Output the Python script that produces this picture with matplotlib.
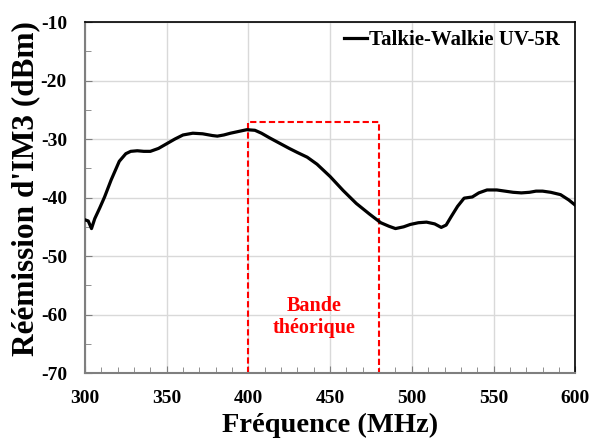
"""Réémission IM3 — Talkie-Walkie UV-5R."""

import matplotlib
matplotlib.use("Agg")
import matplotlib.pyplot as plt
from matplotlib.ticker import MultipleLocator

# Données (MHz, dBm)
freq_mhz = [300, 302, 304, 306, 309, 312, 316, 321, 325, 328, 332, 336, 340, 345,
            350, 355, 360, 366, 372, 378, 381, 385, 389, 394, 399, 404, 408,
            413, 419, 425, 430, 436, 442, 450, 458, 466, 474, 481, 486, 490,
            495, 499, 504, 509, 514, 518, 521, 524, 528, 532, 537, 541, 546,
            552, 557, 562, 567, 572, 576, 580, 585, 591, 596, 600]
im3_dbm = [-43.8, -44.0, -45.3, -43.6, -41.8, -39.9, -37.0, -33.8, -32.5, -32.1,
           -32.0, -32.1, -32.1, -31.6, -30.8, -30.0, -29.3, -29.0, -29.1, -29.4,
           -29.5, -29.3, -29.0, -28.7, -28.4, -28.5, -29.0, -29.8, -30.7, -31.6,
           -32.3, -33.1, -34.3, -36.4, -38.8, -41.0, -42.8, -44.3, -44.9, -45.3,
           -45.0, -44.6, -44.3, -44.2, -44.5, -45.1, -44.7, -43.3, -41.5, -40.1,
           -39.9, -39.2, -38.7, -38.7, -38.9, -39.1, -39.2, -39.1, -38.9, -38.9,
           -39.1, -39.5, -40.4, -41.3]

band_start, band_end, band_top = 400, 480, -27
y_min, y_max = -70, -10

plt.rcParams["font.family"] = ["Liberation Serif", "DejaVu Serif"]
plt.rcParams["font.weight"] = "bold"
plt.rcParams["axes.unicode_minus"] = False

fig = plt.figure(figsize=(5.9, 4.41), dpi=100)
ax = fig.add_axes([0.144, 0.154, 0.831, 0.796])

ax.plot(freq_mhz, im3_dbm, color="black", lw=2.3, label="Talkie-Walkie UV-5R", zorder=3)

# Bande théorique (rectangle pointillé)
ax.plot([band_start, band_start, band_end, band_end],
        [y_min, band_top, band_top, y_min],
        color="red", ls=(0, (3, 1.5)), lw=1.5, zorder=2, clip_on=False)
ax.text((band_start + band_end) / 2, -60.4, "Bande\nthéorique", color="red",
        ha="center", va="center", fontsize=14.5, fontweight="bold", linespacing=1.15)

ax.set_xlim(300, 600)
ax.set_ylim(y_min, y_max)
ax.xaxis.set_major_locator(MultipleLocator(50))
ax.xaxis.set_minor_locator(MultipleLocator(10))
ax.yaxis.set_major_locator(MultipleLocator(10))
ax.yaxis.set_minor_locator(MultipleLocator(5))
ax.grid(True, which="major", color="#d9d9d9", lw=1.0, zorder=0)
ax.set_axisbelow(True)
ax.tick_params(which="both", direction="in", top=False, right=False,
               labelsize=14, color="#7f7f7f")
ax.tick_params(axis="x", which="major", pad=12)
ax.tick_params(axis="y", which="major", pad=13)
ax.tick_params(which="major", length=5)
ax.tick_params(which="minor", length=4)

for side in ("left", "bottom"):
    ax.spines[side].set_color("#7f7f7f")
    ax.spines[side].set_linewidth(1.5)
for side in ("top", "right"):
    ax.spines[side].set_color("black")
    ax.spines[side].set_linewidth(1.2)

ax.set_xlabel("Fréquence (MHz)", fontsize=20.5, fontweight="bold")
ax.xaxis.set_label_coords(0.5, -0.113)
ax.set_ylabel("Réémission d'IM3 (dBm)", fontsize=22.5, fontweight="bold")
ax.yaxis.set_label_coords(-0.092, 0.527)

leg = ax.legend(loc="upper right", frameon=False, fontsize=15, handlelength=1.1,
                handletextpad=0.1, borderaxespad=0.1, borderpad=0.3,
                bbox_to_anchor=(0.985, 1.0))
for t in leg.get_texts():
    t.set_fontweight("bold")

fig.savefig("out.png", dpi=100)
